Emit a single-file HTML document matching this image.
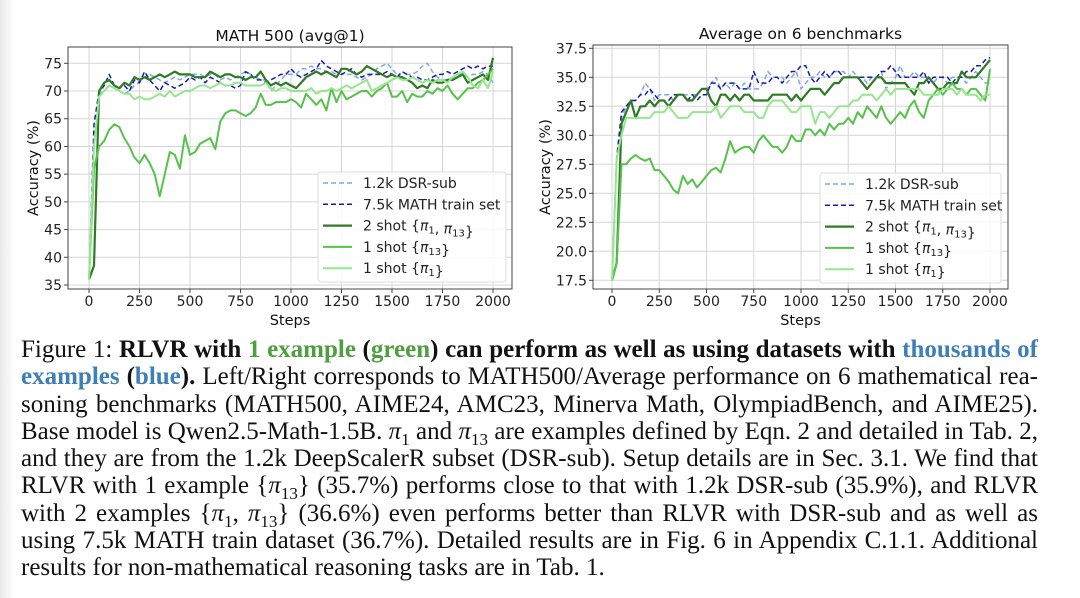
<!DOCTYPE html>
<html><head><meta charset="utf-8">
<style>
html,body{margin:0;padding:0;background:#fff;}
body{width:1080px;height:598px;position:relative;overflow:hidden;}
#edge{position:absolute;left:0;top:0;width:14px;height:598px;background:linear-gradient(to right,#e8e8e8,#fff);}
svg{position:absolute;left:0;top:0;}
#caption{position:absolute;left:21px;top:336px;width:1017px;font-family:"Liberation Serif",serif;font-size:25px;color:#111;}
#caption .ln{height:27.3px;line-height:27.3px;white-space:nowrap;text-align:justify;text-align-last:justify;}
#caption .ln.last{text-align-last:left;}
#caption sub{font-size:17px;line-height:0;}
.g{color:#4f9e3f}.b{color:#3f7fb8}
</style></head>
<body>
<div id="edge"></div>
<svg id="fig" width="1080" height="330"></svg>
<div id="caption">
<div class="ln">Figure 1: <b>RLVR with <span class="g">1 example</span> (<span class="g">green</span>) can perform as well as using datasets with <span class="b">thousands of</span></b></div>
<div class="ln"><b><span class="b">examples</span> (<span class="b">blue</span>).</b> Left/Right corresponds to MATH500/Average performance on 6 mathematical rea-</div>
<div class="ln">soning benchmarks (MATH500, AIME24, AMC23, Minerva Math, OlympiadBench, and AIME25).</div>
<div class="ln">Base model is Qwen2.5-Math-1.5B. <i>π</i><sub>1</sub> and <i>π</i><sub>13</sub> are examples defined by Eqn. 2 and detailed in Tab. 2,</div>
<div class="ln">and they are from the 1.2k DeepScalerR subset (DSR-sub). Setup details are in Sec. 3.1. We find that</div>
<div class="ln">RLVR with 1 example {<i>π</i><sub>13</sub>} (35.7%) performs close to that with 1.2k DSR-sub (35.9%), and RLVR</div>
<div class="ln">with 2 examples {<i>π</i><sub>1</sub>, <i>π</i><sub>13</sub>} (36.6%) even performs better than RLVR with DSR-sub and as well as</div>
<div class="ln">using 7.5k MATH train dataset (36.7%). Detailed results are in Fig. 6 in Appendix C.1.1. Additional</div>
<div class="ln last">results for non-mathematical reasoning tasks are in Tab. 1.</div>
</div>
<script>
// ===== Data: MATH500 (left) =====
const xTicks = [0,250,500,750,1000,1250,1500,1750,2000];
const leftYTicks = [35,40,45,50,55,60,65,70,75];
const rightYTicks = [17.5,20.0,22.5,25.0,27.5,30.0,32.5,35.0,37.5];
const seriesNames = ["1.2k DSR-sub","7.5k MATH train set","2 shot","1 shot π13","1 shot π1"];
const mathDSR = [36,60,69,71,72,71,70,69.5,70,71,71.5,72.5,73,72.5,72,71.5,72,72.5,72,72.5,73,73,73,72.5,73,73,72,72.5,72,72.5,73,73.5,73,72.5,72,72,70,71,72,73,73,73,74,74,74.5,74,74,73.5,73.5,73,73,73,73,72.5,72,72.5,73,74,74.5,75,74,73,72.5,73,73,73.5,74.5,75,73.5,72.5,72,72,72.5,73,73,72.5,73,73,73.5,73,71.5];
const math75k = [36,64,70,71,73,71,70.5,71,70,72,71.5,73.5,72,71,70,71.5,71,70.5,71,71.5,72.5,72,72.5,71.5,72.5,72,71.5,71,71,70.5,71,73.5,73,72,72,71.5,72,72.5,73,73,74,73,72.5,73,73.5,74,75.5,74.5,74,73.5,73,73.5,74,73,72.5,73,73,73,73,73.5,73,72.5,73.5,73,72.5,72.5,72,72,72.5,73,73,73.5,73,73.5,74,74.5,74,74.5,74,74.5,74.5];
const math2shot = [36,38.5,70,71.5,72,71,70.5,71.5,71,72.5,72,72.5,72,72.5,73,72.5,73,73.5,73,73,73,72.5,72.5,72.5,73.5,73,72.5,73,73,72.5,72.5,72,72.5,72.5,73.5,72,71,71.5,71,71.5,71,70.5,71.5,72.5,73,73.5,73,73.5,73,72.5,74,74,73.5,73,73.5,74.5,74,73.5,73,72.5,73,72.5,72.5,72,71.5,70.5,71,70.5,72,71.5,71.5,72,72,72.5,73,71.5,72,72.5,73,72,76];
const math1shot13 = [36,56,60,61,63,64,63.5,61.5,60,58,57,58.5,57,55,51,55,59,58.5,56,62,58.5,59,60.5,61,61.5,59.5,64.5,66,66.5,66.5,66,65.5,66,67,69.5,67.5,67.5,68,68,68,68.5,68,67,69.5,68.5,67.5,68.5,66.5,70.5,68,70,68.5,69,69.5,70,70,69,70,70.5,71.5,69,69,70,68,69.5,69,69,70,69.5,70.5,70,71,69.5,68.5,69.5,70.5,70.5,71.5,72,73,74];
const math1shot1 = [36,60,69,70,71,70.5,70,69.5,69.5,68.5,69,68.5,68.5,69,69.5,69,70,69,69.5,70,70,70.5,71,71,70.5,71,71.5,71,71,71.5,71.5,71,71,71,71,71.5,70.5,70,70.5,70.5,70,70,70,70,70.5,69.5,70,70,70.5,70,70.5,71,70.5,71,71.5,72,70,70.5,71,71.5,72,72.5,72,72,72.5,72,71.5,72,71.5,72,72,71.5,72.5,73,73.5,72.5,71,70.5,72,70.5,73.5];
// ===== Data: Average on 6 benchmarks (right) =====
const avgDSR = [17.5,28,31.5,32.5,33,33,33.5,34.5,34,33,33.5,33.5,33.5,33,33.5,33.5,33.5,33.5,33.5,34,34,34.5,35,34,34.5,34,34.5,34,34.5,34,34,34,34.5,35.5,35,35,35,34.5,35,35.5,34,34.5,35,35,35.5,35,35,35.5,35.5,35.5,35,35.5,35,35,34.5,35,35,35.5,34,34.5,35,36,35,35,35.5,35,35,35,34.5,35,35,34.5,35,35,35,34.5,35,35.5,35,34.5,34.5];
const avg75k = [17.5,28,32,32.5,33,33,33.5,33.5,34,33.5,33,33,33,33.5,33.5,33.5,33,33.5,33,33.5,33.5,34.5,34.5,34,34.5,34.5,34.5,34,34,34,35.5,34.5,34.5,34.5,35,35,34.5,35,35.5,35.5,36,36,35,34.5,35,35.5,35,35.5,35.5,35,35,35,35,35,35,35,35,35.5,35.5,36,35.5,35,35,35,35,35,35.5,34.5,35,35,35,35,34.5,35,35,35.5,35.5,36,36,36.5,36.7];
const avg2shot = [17.5,19,31,32,33,31.5,32.5,32.5,33,32.5,33,33,32.5,33,33.5,33.5,33,33,33.5,34,34,33,32.5,33.5,33.5,33,33.5,33,33.5,33.5,33,33,33,33,33.5,33.5,33.5,33.5,33,33.5,33,33.5,34,34,34,33.5,34,34.5,34.5,35,35,35,35,34.5,34,34.5,35,35,34.5,34.5,34.5,34.5,34.5,34,33.5,34.5,34.5,35,34.5,34,34,34.5,34.5,34.5,35.5,35,35,35,35.5,36,36.5];
const avg1shot13 = [17.5,19,27.5,27.5,28,28.3,28,27.8,28,27,27,26.5,26,25.3,25,26.5,25.8,26.2,25.5,26,26.5,27,27.2,26.8,28,29.5,28.5,28.8,29,29,28.5,29.5,30,29.5,29,29,28.5,29,30,29.5,29.5,30.5,30.5,30,30.5,30,31,30.5,31,31,31.5,31,32,31.5,32.5,32,31.5,32.5,31.5,31,31.5,32,31.5,32.5,33,32,31.5,33,33.5,34,33.5,34,34.5,34,34,33.5,34,34,33.5,33,35.7];
const avg1shot1 = [17.5,28,30,31.5,31.5,31.5,31.5,31.5,31.5,32,32,32,32.5,32,31.5,31.5,31.5,32,32,32,32,32,32.5,31.5,32,32.5,32.5,32.5,32,32,32,31.5,31.5,32.5,33,33,33,32.5,32,32,32.5,32.5,32.5,31,32,32,31.5,32,32.5,32.5,32.5,33,33,33.5,33.5,33.5,33,33.5,34,33.5,34,34,34,34,34,34,33.5,33.5,33.5,33.5,34,34,34,33.5,34,33.5,33.5,33.5,33,33.5,33.5];
const maxStep = 2000;

const NS = "http://www.w3.org/2000/svg";
const svg = document.getElementById('fig');
const FONT = '"DejaVu Sans","Liberation Sans",sans-serif';
function mk(tag, attrs, parent){
  const e = document.createElementNS(NS, tag);
  for (const k in attrs) e.setAttribute(k, attrs[k]);
  (parent||svg).appendChild(e);
  return e;
}
const styles = [
  {color:"#7fa9dd", w:1.5, dash:"5,3"},
  {color:"#1c1ca8", w:1.5, dash:"5,3"},
  {color:"#2f7a24", w:2.2, dash:""},
  {color:"#55c24a", w:2.0, dash:""},
  {color:"#95e68e", w:2.0, dash:""}
];
const legendSubs = [null,null,["1","13"],["13"],["1"]];

function drawChart(cfg){
  const g = mk('g', {});
  
  
  const xs = v => cfg.x0 + (v/maxStep)*(cfg.x1-cfg.x0);
  const ys = v => cfg.ya + (v-cfg.va)*(cfg.yb-cfg.ya)/(cfg.vb-cfg.va);
  xTicks.forEach(t=>{
    const l = mk('line',{x1:xs(t),x2:xs(t),y1:cfg.top,y2:cfg.bottom,stroke:"#d6d6d6","stroke-width":1},g);
    
    
  });
  cfg.yTicks.forEach(t=>{
    const l = mk('line',{x1:cfg.left,x2:cfg.right,y1:ys(t),y2:ys(t),stroke:"#d6d6d6","stroke-width":1},g);
    
    
  });
  cfg.series.forEach((arr,i)=>{
    const n = arr.length;
    const pts = arr.map((v,j)=> xs(j*maxStep/(n-1)).toFixed(1)+","+ys(v).toFixed(1)).join(" ");
    const p = mk('polyline',{points:pts,fill:"none",stroke:styles[i].color,"stroke-width":styles[i].w,"stroke-dasharray":styles[i].dash,"stroke-linejoin":"round"},g);
    
    
  });
  const fr = mk('rect',{x:cfg.left,y:cfg.top,width:cfg.right-cfg.left,height:cfg.bottom-cfg.top,fill:"none",stroke:"#444","stroke-width":1},g);
  
  
  xTicks.forEach(t=>{
    mk('line',{x1:xs(t),x2:xs(t),y1:cfg.bottom,y2:cfg.bottom+4,stroke:"#444"},g);
    const tx = mk('text',{x:xs(t),y:cfg.bottom+17,"text-anchor":"middle","font-family":FONT,"font-size":14,fill:"#222"},g);
    tx.textContent = t;
    
    
  });
  cfg.yTicks.forEach(t=>{
    mk('line',{x1:cfg.left-4,x2:cfg.left,y1:ys(t),y2:ys(t),stroke:"#444"},g);
    const tx = mk('text',{x:cfg.left-6,y:ys(t)+5,"text-anchor":"end","font-family":FONT,"font-size":14,fill:"#222"},g);
    tx.textContent = cfg.fmt(t);
    
    
  });
  const title = mk('text',{x:(cfg.left+cfg.right)/2,y:cfg.top-6,"text-anchor":"middle","font-family":FONT,"font-size":15.5,fill:"#111"},g);
  title.textContent = cfg.title;
  
  
  const xl = mk('text',{x:(cfg.left+cfg.right)/2,y:cfg.bottom+36,"text-anchor":"middle","font-family":FONT,"font-size":14.5,fill:"#111"},g);
  xl.textContent = "Steps";
  
  
  const yl = mk('text',{x:0,y:0,"text-anchor":"middle","font-family":FONT,"font-size":14.5,fill:"#111",transform:`translate(${cfg.ylx},${(cfg.top+cfg.bottom)/2}) rotate(-90)`},g);
  yl.textContent = "Accuracy (%)";
  
  
  const lg = mk('g',{},g);
  
  
  mk('rect',{x:cfg.lx,y:cfg.ly,width:cfg.lw,height:110,rx:3,fill:"#fff","fill-opacity":0.85,stroke:"#ddd"},lg);
  seriesNames.forEach((nm,i)=>{
    const yy = cfg.ly+11+i*21.3;
    const ent = mk('g',{},lg);
    
    
    mk('line',{x1:cfg.lx+5,x2:cfg.lx+34,y1:yy,y2:yy,stroke:styles[i].color,"stroke-width":styles[i].w,"stroke-dasharray":styles[i].dash},ent);
    const t = mk('text',{x:cfg.lx+45,y:yy+5,"font-family":FONT,"font-size":14,fill:"#222"},ent);
    if (i<2) { t.textContent = nm; }
    else {
      const base = i===2 ? "2 shot {" : "1 shot {";
      const s1 = mk('tspan',{},t); s1.textContent = base;
      legendSubs[i].forEach((sb,k)=>{
        if (k>0){ const c = mk('tspan',{},t); c.textContent = ", "; }
        const pi = mk('tspan',{"font-style":"italic"},t); pi.textContent = "π";
        const sub = mk('tspan',{"font-size":10,dy:3},t); sub.textContent = sb;
        const rs = mk('tspan',{dy:-3},t); rs.textContent = "";
      });
      const e = mk('tspan',{},t); e.textContent = "}";
    }
  });
}

drawChart({name:"math500-chart",title:"MATH 500 (avg@1)",left:68,right:512,top:47,bottom:289,
  x0:89,x1:493,ya:285,yb:63.3,va:35,vb:75,yTicks:leftYTicks,fmt:t=>String(t),ylx:38,
  lx:318,ly:172,lw:188,
  series:[mathDSR,math75k,math2shot,math1shot13,math1shot1]});
drawChart({name:"average-6-benchmarks-chart",title:"Average on 6 benchmarks",left:593,right:1008,top:45,bottom:289,
  x0:612,x1:990,ya:280.3,yb:48.3,va:17.5,vb:37.5,yTicks:rightYTicks,fmt:t=>t.toFixed(1),ylx:550,
  lx:820,ly:173,lw:181,
  series:[avgDSR,avg75k,avg2shot,avg1shot13,avg1shot1]});

// fit caption lines that would overflow
document.querySelectorAll('#caption .ln').forEach(ln=>{
  const r = document.createRange(); r.selectNodeContents(ln);
  ln.style.textAlignLast='left';
  const w = r.getBoundingClientRect().width;
  if (!ln.classList.contains('last')) ln.style.textAlignLast='justify';
  if (w > 1017) {
    const words = ln.textContent.split(/\s+/).length - 1;
    ln.style.wordSpacing = (-(w-1017)/Math.max(words,1) - 0.3) + 'px';
  }
});
</script>
</body></html>
